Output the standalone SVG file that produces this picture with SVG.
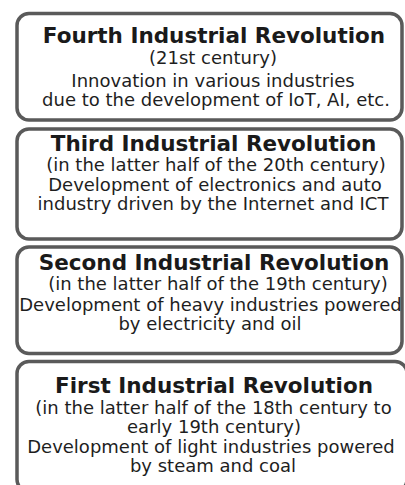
<svg xmlns="http://www.w3.org/2000/svg" width="405" height="485" viewBox="0 0 405 485">
  <style>
    .box { fill: #ffffff; stroke: #5a5a5a; stroke-width: 3.5; }
    .title { font-family: "DejaVu Sans", Verdana, sans-serif; font-weight: bold; font-size: 21.5px; fill: #1a1a1a; text-anchor: middle; }
    .body { font-family: "DejaVu Sans", Verdana, sans-serif; font-size: 18px; fill: #1e1e1e; text-anchor: middle; }
  </style>
  <rect width="405" height="485" fill="#ffffff"/>

  <g id="fourth">
    <rect class="box" x="17" y="13.5" width="385" height="106.5" rx="12"/>
    <text class="title" x="214" y="43">Fourth Industrial Revolution</text>
    <text class="body" x="213" y="64">(21st century)</text>
    <text class="body" x="213" y="86.5">Innovation in various industries</text>
    <text class="body" x="216" y="106">due to the development of IoT, AI, etc.</text>
  </g>

  <g id="third">
    <rect class="box" x="17" y="129" width="385" height="110" rx="12"/>
    <text class="title" x="213.5" y="150.5">Third Industrial Revolution</text>
    <text class="body" x="216" y="170.5">(in the latter half of the 20th century)</text>
    <text class="body" x="215" y="191">Development of electronics and auto</text>
    <text class="body" x="213" y="210">industry driven by the Internet and ICT</text>
  </g>

  <g id="second">
    <rect class="box" x="17" y="247" width="385" height="106.5" rx="12"/>
    <text class="title" x="214" y="269.5">Second Industrial Revolution</text>
    <text class="body" x="218" y="290">(in the latter half of the 19th century)</text>
    <text class="body" x="210.5" y="311">Development of heavy industries powered</text>
    <text class="body" x="210" y="330">by electricity and oil</text>
  </g>

  <g id="first">
    <rect class="box" x="17" y="361.5" width="390" height="130" rx="12"/>
    <text class="title" x="214" y="393">First Industrial Revolution</text>
    <text class="body" x="213.5" y="413.5">(in the latter half of the 18th century to</text>
    <text class="body" x="214" y="432.5">early 19th century)</text>
    <text class="body" x="211" y="452.5">Development of light industries powered</text>
    <text class="body" x="213" y="472">by steam and coal</text>
  </g>

  <g id="connectors"></g>
</svg>
